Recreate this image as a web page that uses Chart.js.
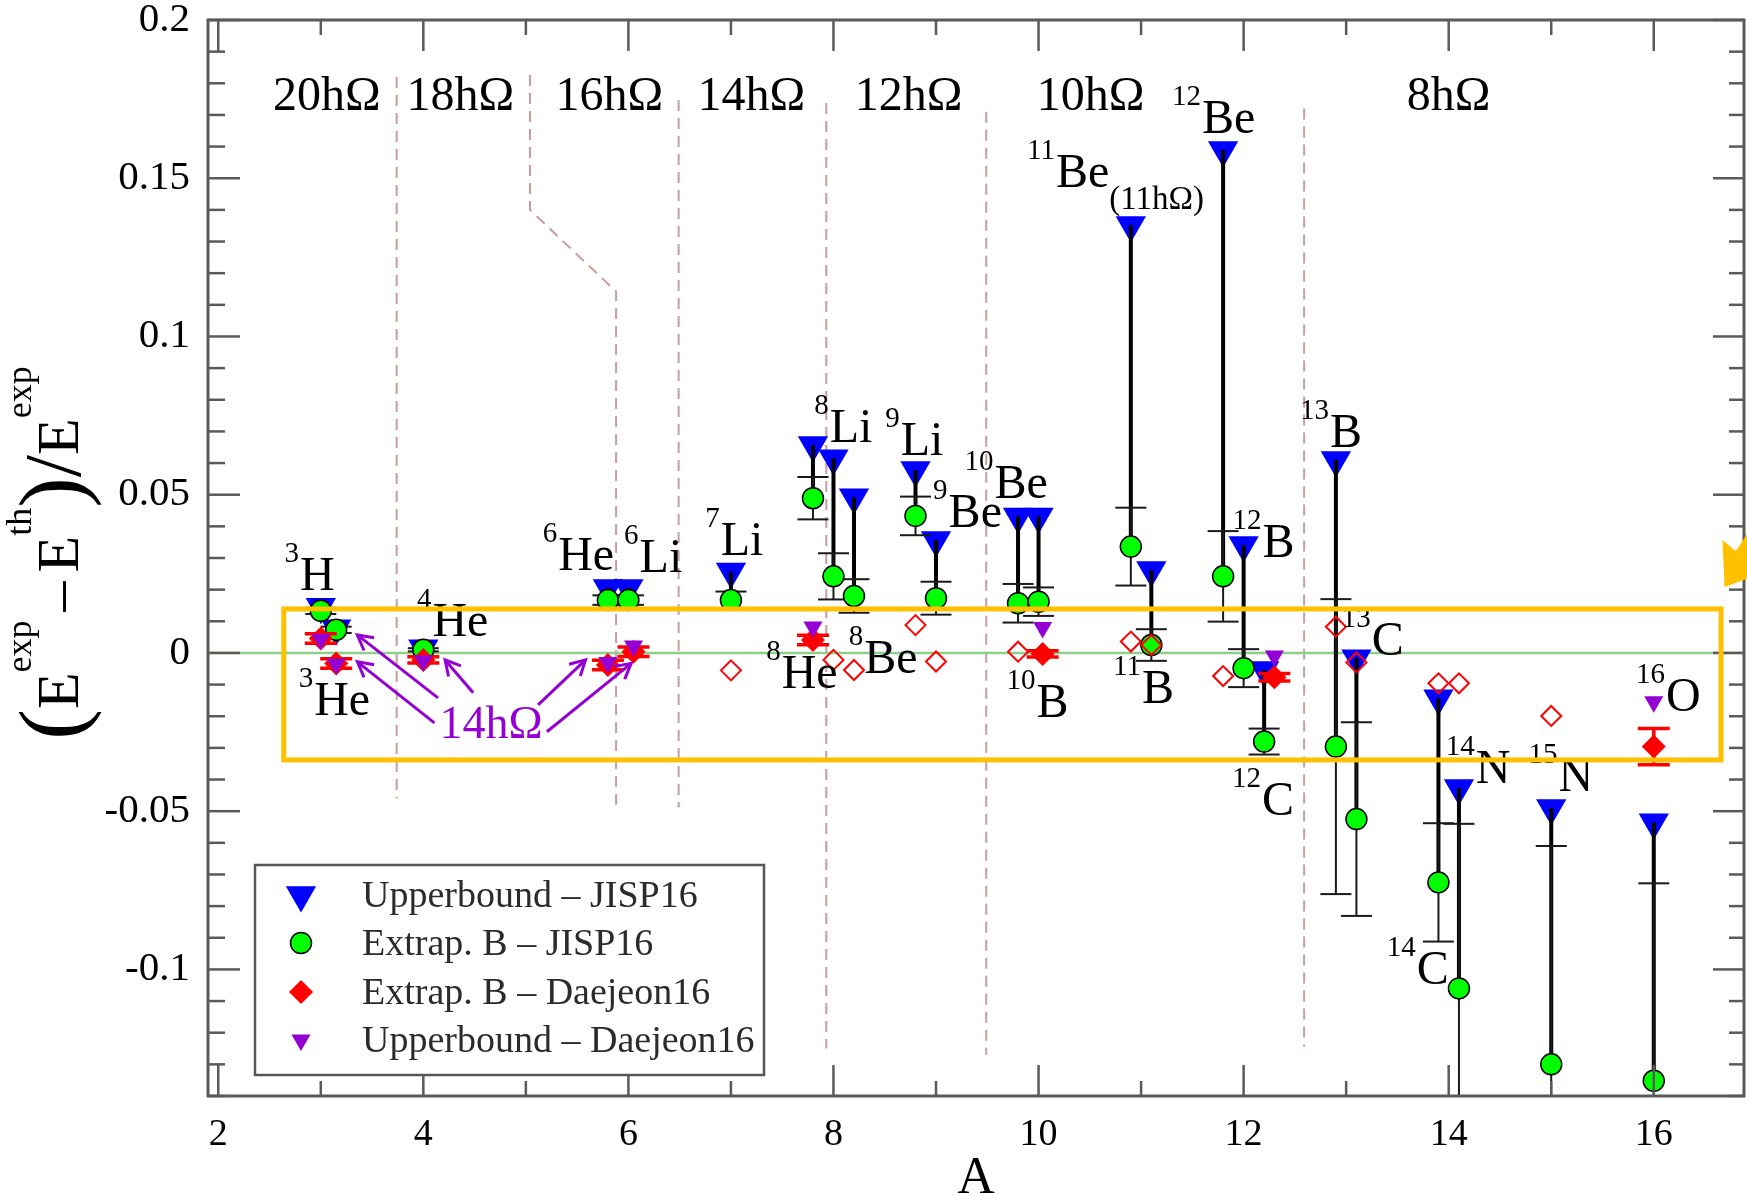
<!DOCTYPE html>
<html lang="en">
<head>
<meta charset="UTF-8">
<title>(Eexp - Eth)/Eexp vs A</title>
<script src="https://cdn.jsdelivr.net/npm/chart.js"></script>
<style>
  * { margin: 0; padding: 0; }
  body { background: #fff; }
  #box { width: 1747px; height: 1196px; }
</style>
</head>
<body>
<div id="box"><canvas id="chart" width="1747" height="1196"></canvas></div>
<script>
// ---- JISP16: one entry per nucleus ----
const nuclei      = ['3H','3He','4He','6He','6Li','7Li','8He','8Li','8Be','9Li','9Be','10Be','10B','11Be','11B','12Be','12B','12C','13B','13C','14C','14N','15N','16O'];
const massA       = [3.0, 3.15, 4.0, 5.8, 6.0, 7.0, 7.8, 8.0, 8.2, 8.8, 9.0, 9.8, 10.0, 10.9, 11.1, 11.8, 12.0, 12.2, 12.9, 13.1, 13.9, 14.1, 15.0, 16.0];
const upperJISP   = [0.0146, 0.0078, 0.0015, 0.0205, 0.0205, 0.0257, 0.0657, 0.0615, 0.0492, 0.0578, 0.0357, 0.0431, 0.0431, 0.1352, 0.0262, 0.1589, 0.0341, -0.0054, 0.0610, -0.0017, -0.0143, -0.0427, -0.0490, -0.0535];
const extrapJISP  = [0.0133, 0.0073, 0.0010, 0.0167, 0.0167, 0.0167, 0.0489, 0.0242, 0.0180, 0.0433, 0.0173, 0.0157, 0.0162, 0.0336, 0.0025, 0.0242, -0.0048, -0.0280, -0.0296, -0.0525, -0.0725, -0.1060, -0.1300, -0.1352];
const errJISP     = [0.0010, 0.0010, 0.0005, 0.0015, 0.0015, 0.0027, 0.0067, 0.0073, 0.0053, 0.0061, 0.0052, 0.0061, 0.0045, 0.0123, 0.0050, 0.0143, 0.0060, 0.0041, 0.0466, 0.0306, 0.0187, 0.0520, 0.0690, 0.0624];

// ---- Daejeon16 ----
const nucleiD     = ['3H','3He','4He','6He','6Li','8He','10B','12C','16O'];
const massD       = [3.0, 3.15, 4.0, 5.8, 6.05, 7.8, 10.04, 12.3, 16.0];
const extrapDaej  = [0.0046, -0.0033, -0.0022, -0.0038, 0.0004, 0.0041, -0.0003, -0.0077, -0.0296];
const errDaej     = [0.0015, 0.0015, 0.0010, 0.0015, 0.0015, 0.0015, 0.0010, 0.0012, 0.0057];
const upperDaej   = [0.0043, -0.0035, -0.0025, -0.0030, 0.0022, 0.0082, 0.0080, -0.0010, -0.0154];

// ---- open red diamonds ----
const massOpen    = [7.0, 8.0, 8.2, 8.8, 9.0, 9.8, 10.9, 11.1, 11.8, 12.9, 13.1, 13.9, 14.1, 15.0];
const valueOpen   = [-0.0055, -0.0022, -0.0054, 0.0088, -0.0027, 0.0004, 0.0036, 0.0025, -0.0073, 0.0083, -0.0030, -0.0096, -0.0096, -0.0199];

// ---- axes ----
const xMin = 1.9, xMax = 16.88, yMin = -0.14, yMax = 0.2;
const xMajor = [2, 4, 6, 8, 10, 12, 14, 16];
const xMinor = [3, 5, 7, 9, 11, 13, 15];
const yMajor = [-0.1, -0.05, 0, 0.05, 0.1, 0.15, 0.2];
const yMinor = [-0.14, -0.13, -0.12, -0.11, -0.09, -0.08, -0.07, -0.06, -0.04, -0.03, -0.02, -0.01,
                0.01, 0.02, 0.03, 0.04, 0.06, 0.07, 0.08, 0.09, 0.11, 0.12, 0.13, 0.14, 0.16, 0.17, 0.18, 0.19];
const yTickText = ['-0.1', '-0.05', '0', '0.05', '0.1', '0.15', '0.2'];

// ---- shell boundaries (dashed) ----
const dashX = [[3.74, 3.74], [5.04, 5.04, 5.88, 5.88], [6.49, 6.49], [7.93, 7.93], [9.49, 9.49], [12.59, 12.59]];
const dashY = [[0.182, -0.046], [0.1826, 0.14, 0.1142, -0.048], [0.1747, -0.0488], [0.1738, -0.125], [0.171, -0.127], [0.172, -0.1244]];

// ---- text annotations (anchor in data units) ----
const isoSup  = ['3','3','4','6','6','7','8','9','9','10','8','8','10','11','11','12','12','12','13','13','16','14','15','14'];
const isoMain = ['H','He','He','He','Li','Li','Li','Li','Be','Be','He','Be','B','Be','B','Be','B','C','B','C','O','N','N','C'];
const isoSub  = ['','','','','','','','','','','','','','(11hΩ)','','','','','','','','','',''];
const isoX    = [2.797, 2.935, 4.089, 5.315, 6.109, 6.90, 7.963, 8.656, 9.123, 9.571, 7.495, 8.301, 9.981, 10.169, 11.008, 11.594, 12.185, 12.179, 12.843, 13.25, 16.119, 14.265, 15.07, 13.689];
const isoY    = [0.0199, -0.0196, 0.0052, 0.0262, 0.0257, 0.031, 0.0667, 0.0625, 0.0399, 0.0489, -0.0112, -0.0064, -0.0201, 0.1473, -0.0158, 0.1642, 0.0304, -0.0512, 0.0652, -0.0006, -0.0185, -0.041, -0.0437, -0.1047];

const shellText = ['20hΩ', '18hΩ', '16hΩ', '14hΩ', '12hΩ', '10hΩ', '8hΩ'];
const shellX    = [2.534, 3.835, 5.289, 6.675, 8.207, 9.982, 13.592];
const shellY    = 0.1715;

const noteText = '14hΩ', noteX = 4.157, noteY = -0.0269;
const arrowFromX = [4.143, 4.108, 4.486, 5.119, 5.205];
const arrowFromY = [-0.0142, -0.0221, -0.0126, -0.0164, -0.0249];
const arrowToX   = [3.356, 3.357, 4.212, 5.582, 6.027];
const arrowToY   = [0.0057, -0.0028, -0.0022, -0.0022, -0.0033];

const boxX = [2.639, 16.656], boxY = [0.0139, -0.0338];
const tipX = [16.67, 16.80, 16.93, 16.93, 16.69];
const tipY = [0.0357, 0.0322, 0.0385, 0.0237, 0.0208];

const legendText = ['Upperbound – JISP16', 'Extrap. B – JISP16', 'Extrap. B – Daejeon16', 'Upperbound – Daejeon16'];

const SERIF = '"Liberation Serif", "Times New Roman", serif';
const BLUE = '#0000ff', GREEN = '#00ff00', RED = '#ff0000', VIOLET = '#9400d3';

function pts(xs, ys) { return xs.map((x, i) => ({ x: x, y: ys[i] })); }
function dashedData() {
  const out = [];
  dashX.forEach((xs, k) => {
    xs.forEach((x, i) => out.push({ x: x, y: dashY[k][i] }));
    out.push({ x: xs[xs.length - 1], y: null });
  });
  return out;
}

const IDX_BLUE = 4, IDX_GREEN = 3;

function seg(ctx, x0, y0, x1, y1) { ctx.beginPath(); ctx.moveTo(x0, y0); ctx.lineTo(x1, y1); ctx.stroke(); }
function errBar(ctx, px, pLo, pHi, half) {
  seg(ctx, px, pLo, px, pHi);
  seg(ctx, px - half, pLo, px + half, pLo);
  seg(ctx, px - half, pHi, px + half, pHi);
}
function tri(ctx, x, y, r) {
  ctx.beginPath();
  ctx.moveTo(x, y + r);
  ctx.lineTo(x - r * 0.866, y - r / 2);
  ctx.lineTo(x + r * 0.866, y - r / 2);
  ctx.closePath(); ctx.fill();
}

const deco = {
  id: 'deco',
  afterDatasetDraw(chart, args) {
    const ctx = chart.ctx, xs = chart.scales.x, ys = chart.scales.y, a = chart.chartArea;
    if (args.index === IDX_BLUE) {
      ctx.save();
      ctx.beginPath(); ctx.rect(a.left, a.top, a.right - a.left, a.bottom - a.top); ctx.clip();
      ctx.strokeStyle = '#000'; ctx.lineWidth = 4;
      massA.forEach((m, i) => {
        const px = xs.getPixelForValue(m);
        seg(ctx, px, ys.getPixelForValue(upperJISP[i]), px, ys.getPixelForValue(extrapJISP[i]));
      });
      ctx.strokeStyle = '#1a1a1a'; ctx.lineWidth = 2;
      massA.forEach((m, i) => {
        errBar(ctx, xs.getPixelForValue(m),
          ys.getPixelForValue(extrapJISP[i] - errJISP[i]),
          ys.getPixelForValue(extrapJISP[i] + errJISP[i]), 15.5);
      });
      ctx.restore();
    }
    if (args.index === IDX_GREEN) {
      ctx.save();
      ctx.strokeStyle = RED; ctx.lineWidth = 3.5;
      massD.forEach((m, i) => {
        errBar(ctx, xs.getPixelForValue(m),
          ys.getPixelForValue(extrapDaej[i] - errDaej[i]),
          ys.getPixelForValue(extrapDaej[i] + errDaej[i]), 16);
      });
      ctx.restore();
    }
  },
  afterDatasetsDraw(chart) {
    const ctx = chart.ctx, xs = chart.scales.x, ys = chart.scales.y, a = chart.chartArea;
    const X = v => xs.getPixelForValue(v), Y = v => ys.getPixelForValue(v);
    ctx.save();
    // frame and inward ticks on all four sides
    ctx.strokeStyle = '#5a5a5a'; ctx.lineWidth = 2.5;
    xMajor.forEach(v => { const p = X(v); seg(ctx, p, a.bottom, p, a.bottom - 31); seg(ctx, p, a.top, p, a.top + 31); });
    xMinor.forEach(v => { const p = X(v); seg(ctx, p, a.bottom, p, a.bottom - 15); seg(ctx, p, a.top, p, a.top + 15); });
    yMajor.forEach(v => { const p = Y(v); seg(ctx, a.left, p, a.left + 32, p); seg(ctx, a.right, p, a.right - 31, p); });
    yMinor.forEach(v => { const p = Y(v); seg(ctx, a.left, p, a.left + 17, p); seg(ctx, a.right, p, a.right - 15, p); });
    ctx.lineWidth = 3;
    ctx.strokeRect(a.left, a.top, a.right - a.left, a.bottom - a.top);

    // nucleus labels
    ctx.fillStyle = '#000'; ctx.textBaseline = 'alphabetic';
    isoMain.forEach((t, i) => {
      const x = X(isoX[i]), y = Y(isoY[i]);
      ctx.font = '48px ' + SERIF; ctx.textAlign = 'left';
      ctx.fillText(t, x, y);
      const w = ctx.measureText(t).width;
      ctx.font = '29px ' + SERIF; ctx.textAlign = 'right';
      ctx.fillText(isoSup[i], x - 1, y - 28);
      if (isoSub[i]) {
        ctx.font = '33px ' + SERIF; ctx.textAlign = 'left';
        ctx.fillText(isoSub[i], x + w, y + 22);
      }
    });
    // shell labels
    ctx.font = '48px ' + SERIF; ctx.textAlign = 'left';
    shellText.forEach((t, i) => ctx.fillText(t, X(shellX[i]), Y(shellY)));

    // violet note with arrows
    ctx.fillStyle = VIOLET; ctx.strokeStyle = VIOLET; ctx.lineWidth = 3;
    ctx.font = '46px ' + SERIF;
    ctx.fillText(noteText, X(noteX), Y(noteY));
    arrowFromX.forEach((fx, i) => {
      const x0 = X(fx), y0 = Y(arrowFromY[i]), x1 = X(arrowToX[i]), y1 = Y(arrowToY[i]);
      seg(ctx, x0, y0, x1, y1);
      const ang = Math.atan2(y1 - y0, x1 - x0), L = 17, w = 0.5;
      ctx.beginPath();
      ctx.moveTo(x1 - L * Math.cos(ang - w), y1 - L * Math.sin(ang - w));
      ctx.lineTo(x1, y1);
      ctx.lineTo(x1 - L * Math.cos(ang + w), y1 - L * Math.sin(ang + w));
      ctx.stroke();
    });

    // legend
    const lx = a.left + 47, ly = a.bottom - 231, lw = 509, lh = 210;
    ctx.fillStyle = '#fff'; ctx.fillRect(lx, ly, lw, lh);
    ctx.strokeStyle = '#555'; ctx.lineWidth = 2.5; ctx.strokeRect(lx, ly, lw, lh);
    const rows = [30, 78, 127, 175], sx = lx + 46;
    ctx.fillStyle = BLUE; tri(ctx, sx, ly + rows[0], 17.5);
    ctx.fillStyle = GREEN; ctx.strokeStyle = '#000'; ctx.lineWidth = 1.5;
    ctx.beginPath(); ctx.arc(sx, ly + rows[1], 10.5, 0, Math.PI * 2); ctx.fill(); ctx.stroke();
    ctx.fillStyle = RED;
    ctx.beginPath(); ctx.moveTo(sx, ly + rows[2] - 12); ctx.lineTo(sx + 12, ly + rows[2]);
    ctx.lineTo(sx, ly + rows[2] + 12); ctx.lineTo(sx - 12, ly + rows[2]); ctx.closePath(); ctx.fill();
    ctx.fillStyle = VIOLET; tri(ctx, sx, ly + rows[3], 11);
    ctx.fillStyle = '#2b2b2b'; ctx.font = '38px ' + SERIF; ctx.textAlign = 'left'; ctx.textBaseline = 'middle';
    legendText.forEach((t, i) => ctx.fillText(t, lx + 107, ly + rows[i] + 2));

    // axis titles
    ctx.fillStyle = '#000'; ctx.textBaseline = 'alphabetic'; ctx.textAlign = 'center';
    ctx.font = '52px ' + SERIF;
    ctx.fillText('A', (a.left + a.right) / 2, 1193);

    const parts = [['(', 92, 4, 0], ['E', 60, 0, 0], ['exp', 36, -47, 0], ['–', 60, 0, 9], ['E', 60, 0, 9],
                   ['th', 36, -47, 0], [')', 92, 4, 0], ['/', 80, 2, 0], ['E', 60, 0, 0], ['exp', 36, -47, 0]];
    let total = 0;
    parts.forEach(p => { ctx.font = p[1] + 'px ' + SERIF; total += ctx.measureText(p[0]).width + p[3]; });
    ctx.translate(78, 553); ctx.rotate(-Math.PI / 2);
    ctx.textAlign = 'left';
    let cx = -total / 2;
    parts.forEach(p => {
      ctx.font = p[1] + 'px ' + SERIF;
      cx += p[3];
      ctx.fillText(p[0], cx, p[2]);
      cx += ctx.measureText(p[0]).width;
    });
    ctx.restore();
  },
  afterDraw(chart) {
    const ctx = chart.ctx, xs = chart.scales.x, ys = chart.scales.y;
    const X = v => xs.getPixelForValue(v), Y = v => ys.getPixelForValue(v);
    ctx.save();
    ctx.strokeStyle = '#ffc000'; ctx.lineWidth = 5;
    ctx.strokeRect(X(boxX[0]), Y(boxY[0]), X(boxX[1]) - X(boxX[0]), Y(boxY[1]) - Y(boxY[0]));
    ctx.fillStyle = '#ffc000';
    ctx.beginPath();
    tipX.forEach((x, i) => { if (i === 0) ctx.moveTo(X(x), Y(tipY[i])); else ctx.lineTo(X(x), Y(tipY[i])); });
    ctx.closePath(); ctx.fill();
    ctx.restore();
  }
};

new Chart(document.getElementById('chart'), {
  type: 'scatter',
  data: {
    datasets: [
      { label: 'open', data: pts(massOpen, valueOpen), order: 1,
        pointStyle: 'rectRot', pointRadius: 10, pointBackgroundColor: 'rgba(0,0,0,0)',
        pointBorderColor: RED, pointBorderWidth: 2 },
      { label: legendText[3], data: pts(massD, upperDaej), order: 2,
        pointStyle: 'triangle', pointRotation: 180, pointRadius: 11,
        pointBackgroundColor: VIOLET, pointBorderWidth: 0 },
      { label: legendText[2], data: pts(massD, extrapDaej), order: 3,
        pointStyle: 'rectRot', pointRadius: 12, pointBackgroundColor: RED, pointBorderWidth: 0 },
      { label: legendText[1], data: pts(massA, extrapJISP), order: 4,
        pointStyle: 'circle', pointRadius: 10.5, pointBackgroundColor: GREEN,
        pointBorderColor: '#000', pointBorderWidth: 1.5 },
      { label: legendText[0], data: pts(massA, upperJISP), order: 5,
        pointStyle: 'triangle', pointRotation: 180, pointRadius: 17.5,
        pointBackgroundColor: BLUE, pointBorderWidth: 0 },
      { label: 'zero', data: [{ x: xMin, y: 0 }, { x: xMax, y: 0 }], order: 6,
        showLine: true, pointRadius: 0, borderColor: '#8ccf8c', borderWidth: 2.5 },
      { label: 'shells', data: dashedData(), order: 7,
        showLine: true, spanGaps: false, pointRadius: 0, borderColor: '#cc9b9b',
        borderWidth: 2, borderDash: [11, 7] }
    ]
  },
  options: {
    responsive: false,
    animation: false,
    devicePixelRatio: 1,
    events: [],
    layout: { autoPadding: false, padding: { top: 20, right: 3, bottom: 0, left: 0 } },
    plugins: { legend: { display: false }, tooltip: { enabled: false } },
    scales: {
      x: {
        type: 'linear', min: xMin, max: xMax,
        grid: { display: false }, border: { display: false },
        afterBuildTicks: s => { s.ticks = xMajor.map(v => ({ value: v })); },
        afterFit: s => { s.height = 100; s.paddingLeft = 0; s.paddingRight = 0; },
        ticks: { font: { family: SERIF, size: 38, lineHeight: 1 }, color: '#000', padding: 12,
                 maxRotation: 0, autoSkip: false }
      },
      y: {
        type: 'linear', min: yMin, max: yMax,
        grid: { display: false }, border: { display: false },
        afterBuildTicks: s => { s.ticks = yMajor.map(v => ({ value: v })); },
        afterFit: s => { s.width = 208; s.paddingTop = 0; s.paddingBottom = 0; },
        ticks: { font: { family: SERIF, size: 41, lineHeight: 1 }, color: '#000', padding: 10, autoSkip: false,
                 callback: (v, i) => yTickText[i] }
      }
    }
  },
  plugins: [deco]
});
</script>
</body>
</html>
